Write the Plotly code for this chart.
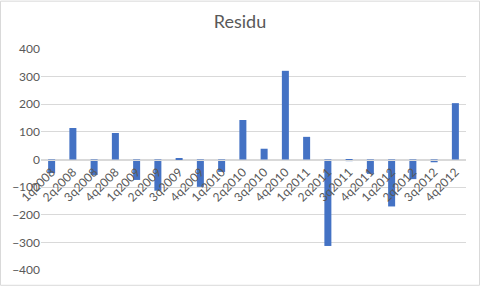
import plotly.graph_objects as go

quarters = ["1q2008", "2q2008", "3q2008", "4q2008", "1q2009", "2q2009", "3q2009", "4q2009",
            "1q2010", "2q2010", "3q2010", "4q2010", "1q2011", "2q2011", "3q2011", "4q2011",
            "1q2012", "2q2012", "3q2012", "4q2012"]
residu = [-49, 114, -56, 96, -74, -113, 5, -99,
          -45, 143, 39, 321, 82, -313, -6, -52,
          -170, -71, -10, 204]
y_ticks = [-400, -300, -200, -100, 0, 100, 200, 300, 400]

fig = go.Figure(go.Bar(x=quarters, y=residu, marker=dict(color="#4472C4", line=dict(width=0))))

W, H = 480, 289
ml, mr, mt, mb = 41, 14, 49, 16
fig.update_layout(
    width=W, height=H,
    margin=dict(l=ml, r=mr, t=mt, b=mb),
    paper_bgcolor="white", plot_bgcolor="white",
    bargap=0.67,
    showlegend=False,
    font=dict(family="Lato, Open Sans, sans-serif", color="#595959", size=12),
    title=dict(text="Residu", x=0.5, xanchor="center", y=1 - 22 / H, yanchor="middle",
               font=dict(size=18, color="#595959")),
    xaxis=dict(type="category", anchor="free", position=0.5, showgrid=False,
               showline=True, linecolor="#D9D9D9", linewidth=1, ticks="",
               tickangle=-45, tickfont=dict(size=12, color="#595959"), fixedrange=True),
    yaxis=dict(range=[-400, 400], tickvals=y_ticks, showgrid=True, gridcolor="#D9D9D9",
               gridwidth=1, zeroline=False, showline=False, ticks="",
               tickfont=dict(size=12, color="#595959"), fixedrange=True),
)
# chart area border
fig.add_shape(type="rect", xref="paper", yref="paper",
              x0=-(ml - 0.5) / (W - ml - mr), x1=1 + (mr - 0.5) / (W - ml - mr),
              y0=-(mb - 0.5) / (H - mt - mb), y1=1 + (mt - 0.5) / (H - mt - mb),
              line=dict(color="#D9D9D9", width=1), layer="below")

fig.write_html("out.html")
